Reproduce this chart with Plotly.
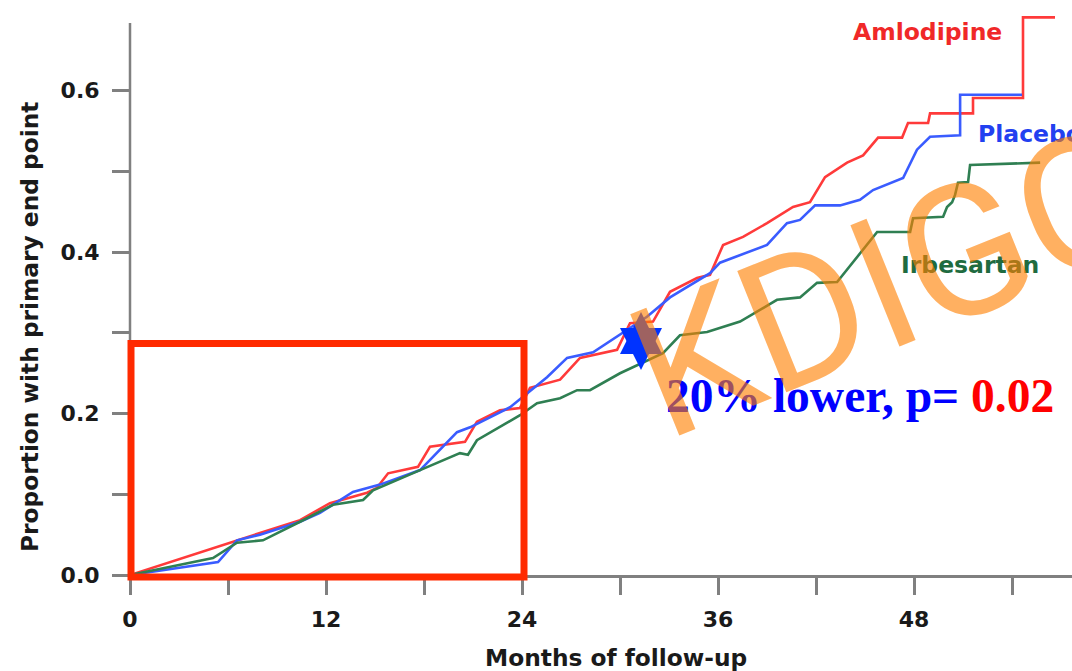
import plotly.graph_objects as go

# ---------------- data ----------------
amlo_months = [0, 5.39, 7.96, 10.41, 12.24, 14.51, 15.12, 15.80, 17.63, 18.37, 20.51, 21.24,
               22.65, 23.88, 24.49, 26.33, 27.55, 29.82, 30.61, 32.02, 33.06, 34.71, 35.51,
               36.31, 37.53, 39.00, 40.59, 41.63, 42.55, 43.90, 44.88, 45.80, 47.27, 47.63,
               48.86, 48.98, 51.61, 51.61, 54.67, 54.67, 56.63]
amlo_values = [0, 0.035, 0.052, 0.068, 0.089, 0.102, 0.108, 0.126, 0.134, 0.159, 0.165, 0.190,
               0.204, 0.207, 0.232, 0.242, 0.269, 0.279, 0.312, 0.314, 0.351, 0.368, 0.372,
               0.409, 0.419, 0.436, 0.456, 0.462, 0.493, 0.511, 0.520, 0.542, 0.542, 0.560,
               0.560, 0.572, 0.572, 0.591, 0.591, 0.691, 0.691]

plac_months = [0, 5.39, 6.55, 7.96, 10.41, 11.63, 13.65, 15.31, 17.76, 20.02, 20.82, 23.27,
               24.06, 25.53, 26.76, 28.35, 31.65, 33.06, 35.51, 36.12, 39.00, 40.22, 41.02,
               41.94, 43.47, 44.69, 45.49, 47.33, 48.18, 48.98, 50.82, 50.82, 54.61]
plac_values = [0, 0.016, 0.043, 0.050, 0.066, 0.077, 0.103, 0.112, 0.130, 0.177, 0.183, 0.208,
               0.221, 0.245, 0.269, 0.276, 0.320, 0.344, 0.374, 0.387, 0.409, 0.436, 0.440,
               0.458, 0.458, 0.465, 0.477, 0.492, 0.527, 0.543, 0.545, 0.595, 0.595]

irbe_months = [0, 5.08, 6.55, 8.14, 10.41, 12.43, 14.27, 14.88, 17.76, 20.20, 20.69, 21.24,
               23.88, 24.92, 26.33, 27.37, 28.16, 30.00, 32.63, 33.67, 35.33, 37.35, 39.61,
               41.02, 42.06, 43.29, 45.74, 47.76, 47.94, 49.78, 50.02, 50.33, 50.51, 50.69,
               51.31, 51.43, 55.72]
irbe_values = [0, 0.021, 0.040, 0.043, 0.066, 0.087, 0.093, 0.105, 0.130, 0.151, 0.149, 0.167,
               0.198, 0.213, 0.219, 0.229, 0.229, 0.250, 0.275, 0.297, 0.301, 0.314, 0.341,
               0.344, 0.362, 0.363, 0.425, 0.425, 0.442, 0.444, 0.456, 0.462, 0.471, 0.486,
               0.487, 0.508, 0.511]

x_tick_vals = [0, 6, 12, 18, 24, 30, 36, 42, 48, 54]
x_tick_text = ["0", "", "12", "", "24", "", "36", "", "48", ""]
y_tick_vals = [0, 0.1, 0.2, 0.3, 0.4, 0.5, 0.6]
y_tick_text = ["0.0", "", "0.2", "", "0.4", "", "0.6"]

series_names = ["Amlodipine", "Placebo", "Irbesartan"]

# ---------------- styling ----------------
W, H = 1072, 671
ML, MB = 130, 96
X_MAX = 57.67
Y_MAX = 0.7125
RED, BLUE, GREEN = "#ff3a3a", "#3a5cff", "#2f7f52"
AXIS_GRAY = "#808080"
BOLD = dict(family="DejaVu Sans", size=22, color="#1a1a1a", weight="bold")
TITLE = dict(BOLD, size=23.3)

fig = go.Figure()
for xs, ys, name, col in [(amlo_months, amlo_values, series_names[0], RED),
                          (plac_months, plac_values, series_names[1], BLUE),
                          (irbe_months, irbe_values, series_names[2], GREEN)]:
    fig.add_trace(go.Scatter(x=xs, y=ys, mode="lines", name=name,
                             line=dict(color=col, width=2.6), hoverinfo="skip"))

fig.update_layout(
    width=W, height=H,
    margin=dict(l=ML, r=0, t=0, b=MB),
    paper_bgcolor="white", plot_bgcolor="white",
    showlegend=False,
    xaxis=dict(range=[0, X_MAX], showgrid=False, zeroline=False,
               showline=True, linecolor=AXIS_GRAY, linewidth=2.5,
               ticks="outside", ticklen=17, tickwidth=2.5, tickcolor=AXIS_GRAY,
               tickvals=x_tick_vals, ticktext=x_tick_text, tickfont=BOLD,
               ticklabelstandoff=6),
    yaxis=dict(range=[0, Y_MAX], showgrid=False, zeroline=False, showline=False,
               ticks="outside", ticklen=17, tickwidth=2.5, tickcolor=AXIS_GRAY,
               tickvals=y_tick_vals, ticktext=y_tick_text, tickfont=BOLD,
               ticklabelstandoff=8),
)

plot_w = W - ML
plot_h = H - MB


def px(xp):
    return (xp - ML) / plot_w


def py(yp):
    return (plot_h - yp) / plot_h


# y axis line (stops below the top of the chart)
fig.add_shape(type="line", xref="paper", yref="paper", x0=0, x1=0, y0=0, y1=py(23),
              line=dict(color=AXIS_GRAY, width=2.5))

# red highlight box over first 24 months
fig.add_shape(type="rect", xref="paper", yref="paper",
              x0=px(131), x1=px(524), y0=py(577), y1=py(343.5),
              line=dict(color="#ff2a00", width=7), fillcolor="rgba(0,0,0,0)")

# blue six-pointed marker
cx, cy, hw, hh = 641, 341, 21, 29
up = [(cx, cy - hh), (cx - hw, cy + hh * 0.45), (cx + hw, cy + hh * 0.45)]
dn = [(cx, cy + hh), (cx - hw, cy - hh * 0.45), (cx + hw, cy - hh * 0.45)]
for tri in (up, dn):
    path = "M " + " L ".join(f"{px(a):.5f},{py(b):.5f}" for a, b in tri) + " Z"
    fig.add_shape(type="path", xref="paper", yref="paper", path=path,
                  fillcolor="#0033ff", line=dict(width=0))

# series labels
lab = dict(family="DejaVu Sans", size=23.5, weight="bold")
fig.add_annotation(x=px(927), y=py(32), xref="paper", yref="paper", text="Amlodipine",
                   showarrow=False, font=dict(lab, color="#f02828"), xanchor="center", yanchor="middle")
fig.add_annotation(x=px(976), y=py(134), xref="paper", yref="paper", text="Placebo",
                   showarrow=False, font=dict(lab, color="#2240f0"), xanchor="left", yanchor="middle")
fig.add_annotation(x=px(970), y=py(265), xref="paper", yref="paper", text="Irbesartan",
                   showarrow=False, font=dict(lab, color="#1f6b40"), xanchor="center", yanchor="middle")

# axis titles
fig.add_annotation(x=px(616), y=py(658), xref="paper", yref="paper", text="Months of follow-up",
                   showarrow=False, font=TITLE, xanchor="center", yanchor="middle")
fig.add_annotation(x=px(29), y=py(327), xref="paper", yref="paper",
                   text="Proportion with primary end point", textangle=-90,
                   showarrow=False, font=TITLE, xanchor="center", yanchor="middle")

# result text
fig.add_annotation(x=px(664), y=py(396), xref="paper", yref="paper",
                   text="<b>20% lower, p= <span style='color:#ff0000'>0.02</span></b>",
                   showarrow=False, xanchor="left", yanchor="middle",
                   font=dict(family="Liberation Serif", size=47.5, color="#0000ff"))

# watermark
fig.add_annotation(x=px(891), y=py(282), xref="paper", yref="paper", text="KDIGO",
                   showarrow=False, textangle=-22, xanchor="center", yanchor="middle",
                   font=dict(family="Roboto", size=184, color="rgba(255,128,0,0.62)"))

fig.write_html("out.html", config={"displayModeBar": False},
               post_script="document.body.style.margin='0';")
